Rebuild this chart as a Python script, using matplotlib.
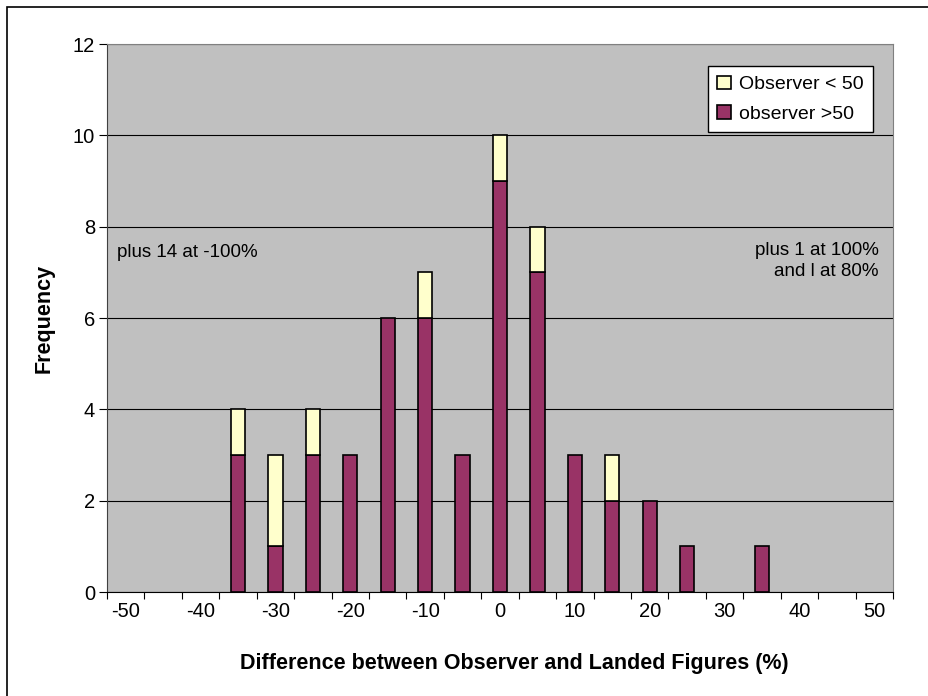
import numpy as np
import matplotlib.pyplot as plt
from matplotlib.patches import Rectangle

plt.rcParams['font.family'] = ['Liberation Sans', 'DejaVu Sans']

# difference classes (%), one every 5
diff = list(range(-50, 55, 5))
over50 = [0, 0, 0, 3, 1, 3, 3, 6, 6, 3, 9, 7, 3, 2, 2, 1, 0, 1, 0, 0, 0]
under50 = [0, 0, 0, 1, 2, 1, 0, 0, 1, 0, 1, 1, 0, 1, 0, 0, 0, 0, 0, 0, 0]
tick_labels = [str(d) if d % 10 == 0 else '' for d in diff]

fig = plt.figure(figsize=(9.29, 6.96), dpi=100)
fig.patches.append(Rectangle((7 / 929, -0.1), 1.2, (689 / 696) + 0.1,
                             transform=fig.transFigure, fill=False,
                             edgecolor='black', linewidth=1.2))
ax = fig.add_axes([107 / 929, 104 / 696, 786 / 929, 548 / 696])
ax.set_facecolor('#C0C0C0')

x = np.arange(len(diff))
lo = np.array(over50)
hi = np.array(under50)
w = 0.38
m1 = lo > 0
m2 = hi > 0
ax.bar(x[m1], lo[m1], w, color='#993366', edgecolor='black', linewidth=1.2,
       label='observer >50', zorder=3)
ax.bar(x[m2], hi[m2], w, bottom=lo[m2], color='#FFFFCC', edgecolor='black',
       linewidth=1.2, label='Observer < 50', zorder=3)

ax.set_xlim(-0.5, len(diff) - 0.5)
ax.set_ylim(0, 12)
ax.set_yticks(range(0, 13, 2))
ax.yaxis.grid(True, color='black', linewidth=0.8, zorder=1)
ax.set_axisbelow(True)

# ticks on category boundaries, labels centred on categories
ax.set_xticks(np.arange(-0.5, len(diff), 1))
ax.set_xticklabels([])
ax.set_xticks(x, minor=True)
ax.set_xticklabels(tick_labels, minor=True)
ax.tick_params(axis='x', which='minor', length=0, pad=7, labelsize=14.5)
ax.tick_params(axis='x', which='major', length=5, direction='out')
ax.tick_params(axis='y', length=6, labelsize=14.5, pad=2.5)

for s in ['top', 'right']:
    ax.spines[s].set_color('#808080')
ax.spines['left'].set_color('#404040')

ax.set_xlabel('Difference between Observer and Landed Figures (%)',
              fontsize=15.5, fontweight='bold')
ax.xaxis.set_label_coords(0.518, -0.111)
ax.set_ylabel('Frequency', fontsize=15.5, fontweight='bold', labelpad=13)

ax.text(0.013, 0.620, 'plus 14 at -100%', transform=ax.transAxes,
        fontsize=13.5, va='center', ha='left')
ax.text(0.982, 0.604, 'plus 1 at 100%\nand l at 80%', transform=ax.transAxes,
        fontsize=13.5, va='center', ha='right', multialignment='right',
        linespacing=1.25)

h, l = ax.get_legend_handles_labels()
leg = ax.legend(h[::-1], l[::-1], loc='upper right',
                bbox_to_anchor=(0.9746, 0.9599), borderaxespad=0,
                fontsize=14, frameon=True,
                fancybox=False, edgecolor='black', framealpha=1,
                handlelength=0.7, handleheight=0.7, handletextpad=0.4,
                labelspacing=0.6, borderpad=0.5)
leg.get_frame().set_linewidth(1.0)

fig.savefig('out.png', dpi=100)
